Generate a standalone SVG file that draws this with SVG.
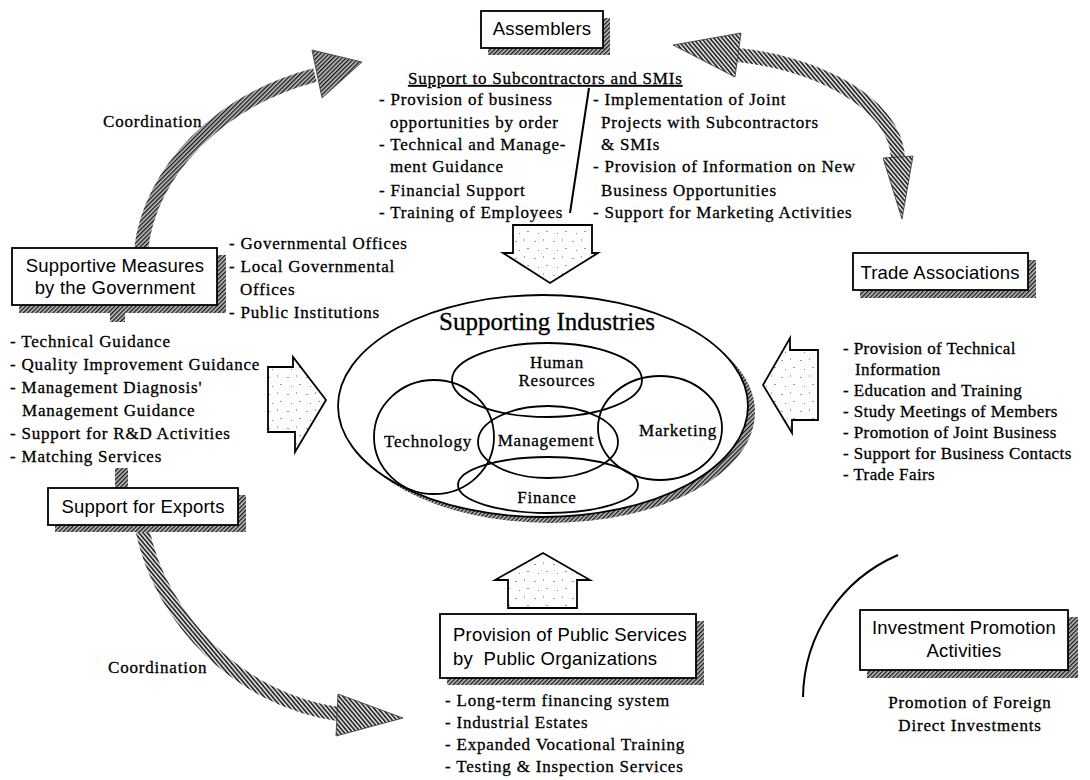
<svg xmlns="http://www.w3.org/2000/svg" width="1090" height="780" viewBox="0 0 1090 780">
  <defs>
    <style>
      .serif { font-family: "Liberation Serif", "Times New Roman", serif; font-size: 17px; letter-spacing: 0.8px; fill: #000; stroke: #000; stroke-width: 0.3px; }
      .tight { letter-spacing: 0.4px; }
      .sans { font-family: "Liberation Sans", Arial, sans-serif; font-size: 18.5px; letter-spacing: 0.2px; fill: #000; }
      .mid { text-anchor: middle; }
      .box { fill: #fff; stroke: #000; stroke-width: 1.8; }
      .shadow { fill: url(#hatch); stroke: none; }
      .block { fill: url(#stipple); stroke: #000; stroke-width: 1.8; stroke-linejoin: miter; }
      .ring { fill: none; stroke: #000; stroke-width: 1.8; }
      .shaft { fill: none; stroke-width: 14; stroke-linecap: butt; }
      .head { stroke: #333; stroke-width: 0.8; }
    </style>
    <!-- dense diagonal hatching for drop shadows and curved arrows -->
    <pattern id="hatch" patternUnits="userSpaceOnUse" width="3" height="3" patternTransform="rotate(45)">
      <rect width="3" height="3" fill="#c4c4c4"/>
      <rect width="1.4" height="3" fill="#1a1a1a"/>
    </pattern>
    <pattern id="hatchLight" patternUnits="userSpaceOnUse" width="3.2" height="3.2" patternTransform="rotate(-40)">
      <rect width="3.2" height="3.2" fill="#d8d8d8"/>
      <rect width="1.5" height="3.2" fill="#222"/>
    </pattern>
    <!-- sparse speckle used inside the block arrows -->
    <pattern id="stipple" patternUnits="userSpaceOnUse" width="19" height="17">
      <rect width="19" height="17" fill="#fdfdfd"/>
      <rect x="2" y="3" width="2" height="1" fill="#999"/>
      <rect x="11" y="1" width="1" height="2" fill="#aaa"/>
      <rect x="14" y="10" width="2" height="1" fill="#999"/>
      <rect x="6" y="12" width="1" height="1" fill="#888"/>
    </pattern>
  </defs>

  <rect width="1090" height="780" fill="#fff"/>

  <!-- curved coordination arrows and block arrows -->
  <g id="connectors">
    <!-- government -> assemblers -->
    <path class="shaft" stroke="url(#hatch)" d="M141,250 C150,170 220,100 315,75"/>
    <polygon class="head" points="312,50 362,62 322,98" fill="url(#hatch)"/>
    <!-- assemblers <-> trade associations -->
    <path class="shaft" stroke="url(#hatchLight)" stroke-width="13" d="M738,55 C810,62 895,100 898,158"/>
    <polygon class="head" points="741,33 673,45 735,77" fill="url(#hatchLight)"/>
    <polygon class="head" points="883,158 913,156 902,219" fill="url(#hatchLight)"/>
    <!-- exports -> public services -->
    <path class="shaft" stroke="url(#hatchLight)" stroke-width="13" d="M142,528 C160,620 240,700 338,714"/>
    <polygon class="head" points="338,694 403,718 336,736" fill="url(#hatchLight)"/>
    <!-- hatched stubs between the government box, its list and the exports box -->
    <rect x="110" y="305" width="15" height="17" fill="url(#hatch)"/>
    <rect x="115" y="468" width="13" height="20" fill="url(#hatch)"/>
    <!-- divider between the two assembler lists -->
    <line x1="589" y1="88" x2="570" y2="213" stroke="#000" stroke-width="2"/>
    <!-- block arrows into the centre -->
    <polygon class="block" points="513,225 592,225 592,253 598,253 550,283 503,253 513,253"/>
    <polygon class="block" points="268,367 293,367 293,357 326,400 295,452 295,432 268,432"/>
    <polygon class="block" points="818,350 818,420 792,420 792,433 763,385 790,338 790,350"/>
    <polygon class="block" points="543,553 590,580 577,580 577,608 508,608 508,580 495,580"/>
    <!-- arc beside investment promotion -->
    <path d="M803,697 A157,157 0 0 1 898,555" fill="none" stroke="#000" stroke-width="2"/>
  </g>

  <!-- Assemblers -->
  <g id="assemblers">
    <rect class="shadow" x="488" y="18" width="122" height="37"/>
    <rect class="box" x="481" y="11" width="122" height="37"/>
    <text class="sans mid" x="542" y="35">Assemblers</text>
    <text class="serif" x="408" y="84" text-decoration="underline">Support to Subcontractors and SMIs</text>
    <text class="serif" x="379" y="105">- Provision of business</text>
    <text class="serif" x="390" y="128">opportunities by order</text>
    <text class="serif" x="379" y="150">- Technical and Manage-</text>
    <text class="serif" x="390" y="172">ment Guidance</text>
    <text class="serif" x="379" y="196">- Financial Support</text>
    <text class="serif" x="379" y="218">- Training of Employees</text>
    <text class="serif" x="593" y="105">- Implementation of Joint</text>
    <text class="serif" x="601" y="128">Projects with Subcontractors</text>
    <text class="serif" x="601" y="150">&amp; SMIs</text>
    <text class="serif" x="593" y="172">- Provision of Information on New</text>
    <text class="serif" x="601" y="196">Business Opportunities</text>
    <text class="serif" x="593" y="218">- Support for Marketing Activities</text>
  </g>

  <!-- Supportive Measures by the Government -->
  <g id="government">
    <rect class="shadow" x="19" y="255" width="207" height="58"/>
    <rect class="box" x="12" y="248" width="205" height="57"/>
    <text class="sans mid" x="115" y="272">Supportive Measures</text>
    <text class="sans mid" x="115" y="294">by the Government</text>
    <text class="serif" x="229" y="249">- Governmental Offices</text>
    <text class="serif" x="229" y="272">- Local Governmental</text>
    <text class="serif" x="240" y="295">Offices</text>
    <text class="serif" x="229" y="318">- Public Institutions</text>
    <text class="serif" x="10" y="347">- Technical Guidance</text>
    <text class="serif" x="10" y="370">- Quality Improvement Guidance</text>
    <text class="serif" x="10" y="393">- Management Diagnosis'</text>
    <text class="serif" x="22" y="416">Management Guidance</text>
    <text class="serif" x="10" y="439">- Support for R&amp;D Activities</text>
    <text class="serif" x="10" y="462">- Matching Services</text>
  </g>

  <!-- Support for Exports -->
  <g id="exports">
    <rect class="shadow" x="55" y="495" width="191" height="37"/>
    <rect class="box" x="48" y="488" width="190" height="37"/>
    <text class="sans mid" x="143" y="513">Support for Exports</text>
    <text class="serif" x="108" y="673">Coordination</text>
  </g>

  <g id="coordination-top">
    <text class="serif" x="103" y="127">Coordination</text>
  </g>

  <!-- Trade Associations -->
  <g id="trade">
    <rect class="shadow" x="860" y="260" width="176" height="38"/>
    <rect class="box" x="853" y="253" width="175" height="37"/>
    <text class="sans mid" x="940" y="279">Trade Associations</text>
    <text class="serif tight" x="843" y="354">- Provision of Technical</text>
    <text class="serif tight" x="855" y="375">Information</text>
    <text class="serif tight" x="843" y="396">- Education and Training</text>
    <text class="serif tight" x="843" y="417">- Study Meetings of Members</text>
    <text class="serif tight" x="843" y="438">- Promotion of Joint Business</text>
    <text class="serif tight" x="843" y="459">- Support for Business Contacts</text>
    <text class="serif tight" x="843" y="480">- Trade Fairs</text>
  </g>

  <!-- Supporting Industries -->
  <g id="supporting-industries">
    <ellipse cx="550" cy="412" rx="205" ry="111" fill="url(#hatch)"/>
    <ellipse cx="543" cy="406" rx="205" ry="111" fill="#fff" stroke="#000" stroke-width="1.8"/>
    <text x="547" y="330" text-anchor="middle" font-family="Liberation Serif, Times New Roman, serif" font-size="25" stroke="#000" stroke-width="0.3">Supporting Industries</text>
    <ellipse class="ring" cx="547" cy="380" rx="95" ry="37"/>
    <ellipse class="ring" cx="434" cy="437" rx="60" ry="57"/>
    <ellipse class="ring" cx="660" cy="428" rx="62" ry="52"/>
    <ellipse class="ring" cx="548" cy="442" rx="70" ry="36"/>
    <ellipse class="ring" cx="548" cy="485" rx="90" ry="28"/>
    <text class="serif mid" x="557" y="368" font-size="16">Human</text>
    <text class="serif mid" x="557" y="386" font-size="16">Resources</text>
    <text class="serif mid" x="428" y="447" font-size="16">Technology</text>
    <text class="serif mid" x="546" y="446" font-size="16">Management</text>
    <text class="serif mid" x="678" y="436" font-size="16">Marketing</text>
    <text class="serif mid" x="547" y="503" font-size="16">Finance</text>
  </g>

  <!-- Provision of Public Services by Public Organizations -->
  <g id="public-services">
    <rect class="shadow" x="447" y="621" width="257" height="64"/>
    <rect class="box" x="440" y="614" width="256" height="64"/>
    <text class="sans" x="453" y="641">Provision of Public Services</text>
    <text class="sans" x="453" y="665" xml:space="preserve">by  Public Organizations</text>
    <text class="serif" x="445" y="706">- Long-term financing system</text>
    <text class="serif" x="445" y="728">- Industrial Estates</text>
    <text class="serif" x="445" y="750">- Expanded Vocational Training</text>
    <text class="serif" x="445" y="772">- Testing &amp; Inspection Services</text>
  </g>

  <!-- Investment Promotion Activities -->
  <g id="investment">
    <rect class="shadow" x="867" y="617" width="211" height="61"/>
    <rect class="box" x="860" y="610" width="208" height="60"/>
    <text class="sans mid" x="964" y="634">Investment Promotion</text>
    <text class="sans mid" x="964" y="657">Activities</text>
    <text class="serif mid" x="970" y="708">Promotion of Foreign</text>
    <text class="serif mid" x="970" y="731">Direct Investments</text>
  </g>
</svg>
